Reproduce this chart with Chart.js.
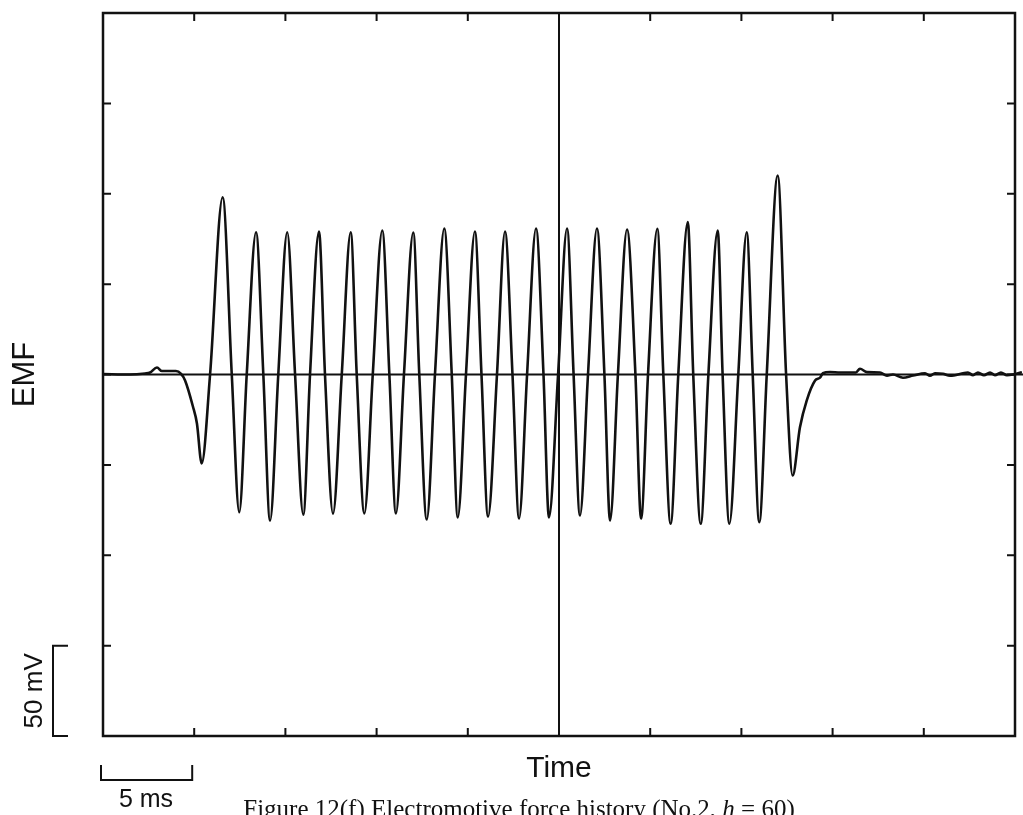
<!DOCTYPE html>
<html>
<head>
<meta charset="utf-8">
<title>Electromotive force history</title>
<script src="https://cdn.jsdelivr.net/npm/chart.js@4.4.0/dist/chart.umd.min.js"></script>
<style>
  body { margin: 0; background: #fff; }
  #wrap { position: relative; width: 1023px; height: 815px; }
</style>
</head>
<body>
<div id="wrap"><canvas id="emfChart"></canvas></div>
<script>
// time (ms) of the points: flat start, the burst, flat end
const timeMs = [
  0, 1.48, 2.30, 2.58, 2.96, 3.23, 4.00, 4.28, 4.50, 4.93, 5.15, 5.41,
  5.87, 6.56, 7.06, 7.47, 7.88, 8.39, 8.79, 9.16, 9.61, 10.10, 10.53, 10.98,
  11.35, 11.84, 12.17, 12.61, 13.09, 13.58, 13.91, 14.33, 14.79, 15.31, 15.70, 16.06,
  16.50, 17.01, 17.34, 17.75, 18.20, 18.71, 19.12, 19.45, 19.90, 20.39, 20.75, 21.11,
  21.60, 22.04, 22.45, 22.81, 23.25, 23.74, 24.15, 24.45, 24.95, 25.44, 25.80, 26.15,
  26.59, 27.08, 27.49, 27.80, 28.23, 28.73, 29.19, 29.50, 29.88, 30.39, 30.72, 31.12,
  31.54, 32.06, 32.36, 32.77, 33.19, 33.70, 33.97, 34.34, 34.83, 35.29, 35.62, 35.98,
  36.39, 36.99, 37.45, 37.81, 38.21, 38.58, 39.04, 39.31, 39.47, 39.86, 40.41, 41.28,
  41.50, 41.89, 42.60, 42.98, 43.31, 43.86, 44.41, 45.07, 45.34, 45.61, 46.05, 46.44,
  47.42, 47.70, 47.97, 48.30, 48.63, 48.90, 49.23, 49.56, 49.89, 50.38
];
// EMF (mV) at those times
const emfMv = [
  0.3, 0, 0.6, 1.1, 3.9, 1.9, 1.9, 0.3, -3.3, -17.7, -27.1, -49.2,
  0, 98.1, 0, -76.2, 0, 78.7, 0, -80.8, 0, 78.7, 0, -77.5,
  0, 79.1, 0, -77.0, 0, 78.7, 0, -76.9, 0, 79.7, 0, -76.9,
  0, 78.6, 0, -80.2, 0, 80.8, 0, -79.1, 0, 79.1, 0, -78.6,
  0, 79.1, 0, -79.7, 0, 80.8, 0, -79.1, 0, 80.8, 0, -78.0,
  0, 80.8, 0, -80.8, 0, 80.2, 0, -79.7, 0, 80.6, 0, -82.6,
  0, 84.3, 0, -82.6, 0, 79.7, 0, -82.6, 0, 78.7, 0, -81.7,
  0, 110.1, 0, -55.9, -29.2, -14.4, -3.3, -1.7, 0.7, 1.4, 1.1, 1.1,
  3.2, 1.3, 1.1, -0.6, 0, -1.8, -0.6, 0.7, -0.7, 0.7, 0.4, -0.7,
  1.1, -0.4, 1.1, -0.4, 1.1, -0.4, 1.1, -0.4, 0, 1.3
];

// axes: 10 divisions of 5 ms, 8 divisions of 50 mV
const xRange = [0, 50];
const yRange = [-200, 200];
const xTicks = [5, 10, 15, 20, 25, 30, 35, 40, 45];
const yTicks = [-150, -100, -50, 0, 50, 100, 150];
const centerTime = 25;
const zeroLineEnd = 50.44;
const scaleBarMs = 5;
const scaleBarMv = 50;

const trace = timeMs.map((t, i) => ({ x: t, y: emfMv[i] }));

// frame, inward ticks, scale bars and texts
const decorations = {
  id: 'decorations',
  afterDraw(chart) {
    const { ctx, chartArea: a, scales: { x, y } } = chart;
    ctx.save();
    ctx.strokeStyle = '#111';
    ctx.lineWidth = 2.5;
    ctx.strokeRect(a.left, a.top, a.right - a.left, a.bottom - a.top);

    ctx.lineWidth = 2;
    ctx.beginPath();
    xTicks.forEach(v => {
      const px = x.getPixelForValue(v);
      ctx.moveTo(px, a.top); ctx.lineTo(px, a.top + 8);
      ctx.moveTo(px, a.bottom); ctx.lineTo(px, a.bottom - 8);
    });
    yTicks.forEach(v => {
      const py = y.getPixelForValue(v);
      ctx.moveTo(a.left, py); ctx.lineTo(a.left + 8, py);
      ctx.moveTo(a.right, py); ctx.lineTo(a.right - 8, py);
    });
    ctx.stroke();

    // 50 mV bracket
    const yb0 = y.getPixelForValue(yRange[0]);
    const yb1 = y.getPixelForValue(yRange[0] + scaleBarMv);
    ctx.beginPath();
    ctx.moveTo(68, yb1); ctx.lineTo(53, yb1); ctx.lineTo(53, yb0); ctx.lineTo(68, yb0);
    ctx.stroke();

    // 5 ms bracket
    const xb0 = x.getPixelForValue(xRange[0]) - 2;
    const xb1 = x.getPixelForValue(xRange[0] + scaleBarMs) - 2;
    ctx.beginPath();
    ctx.moveTo(xb0, 765); ctx.lineTo(xb0, 780); ctx.lineTo(xb1, 780); ctx.lineTo(xb1, 765);
    ctx.stroke();

    ctx.fillStyle = '#111';
    ctx.textAlign = 'center';
    ctx.textBaseline = 'middle';
    const sans = '"Liberation Sans", Arial, sans-serif';

    ctx.font = '31px ' + sans;
    ctx.save();
    ctx.translate(25, y.getPixelForValue(0));
    ctx.rotate(-Math.PI / 2);
    ctx.fillText('EMF', 0, 0);
    ctx.restore();

    ctx.font = '30px ' + sans;
    ctx.fillText('Time', x.getPixelForValue(centerTime), 769);

    ctx.font = '26px ' + sans;
    ctx.save();
    ctx.translate(35, (yb0 + yb1) / 2);
    ctx.rotate(-Math.PI / 2);
    ctx.fillText('50 mV', 0, 0);
    ctx.restore();

    ctx.font = '25px ' + sans;
    ctx.fillText('5 ms', 146, 800);

    // caption, partly cut by the bottom edge as in the scan
    const serif = '"Liberation Serif", "Times New Roman", serif';
    const parts = [
      ['Figure 12(f) Electromotive force history (No.2, ', '25px ' + serif],
      ['h', 'italic 25px ' + serif],
      [' = 60)', '25px ' + serif]
    ];
    let total = 0;
    parts.forEach(p => { ctx.font = p[1]; total += ctx.measureText(p[0]).width; });
    let cx = 519 - total / 2;
    ctx.textAlign = 'left';
    ctx.textBaseline = 'alphabetic';
    parts.forEach(p => {
      ctx.font = p[1];
      ctx.fillText(p[0], cx, 817);
      cx += ctx.measureText(p[0]).width;
    });
    ctx.restore();
  }
};

new Chart(document.getElementById('emfChart'), {
  type: 'scatter',
  data: {
    datasets: [
      {
        label: 'EMF',
        data: trace,
        showLine: true,
        borderColor: '#111',
        borderWidth: 2.6,
        pointRadius: 0,
        cubicInterpolationMode: 'monotone',
        clip: false
      },
      {
        label: 'zero',
        data: [{ x: xRange[0], y: 0 }, { x: zeroLineEnd, y: 0 }],
        showLine: true,
        borderColor: '#111',
        borderWidth: 2,
        pointRadius: 0,
        clip: false
      },
      {
        label: 'center',
        data: [{ x: centerTime, y: yRange[0] }, { x: centerTime, y: yRange[1] }],
        showLine: true,
        borderColor: '#111',
        borderWidth: 2,
        pointRadius: 0
      }
    ]
  },
  options: {
    responsive: true,
    maintainAspectRatio: false,
    animation: false,
    devicePixelRatio: 1,
    layout: { padding: { left: 103, right: 8, top: 13, bottom: 79 } },
    plugins: { legend: { display: false }, tooltip: { enabled: false } },
    scales: {
      x: { type: 'linear', min: xRange[0], max: xRange[1], display: false },
      y: { type: 'linear', min: yRange[0], max: yRange[1], display: false }
    }
  },
  plugins: [decorations]
});
</script>
</body>
</html>
